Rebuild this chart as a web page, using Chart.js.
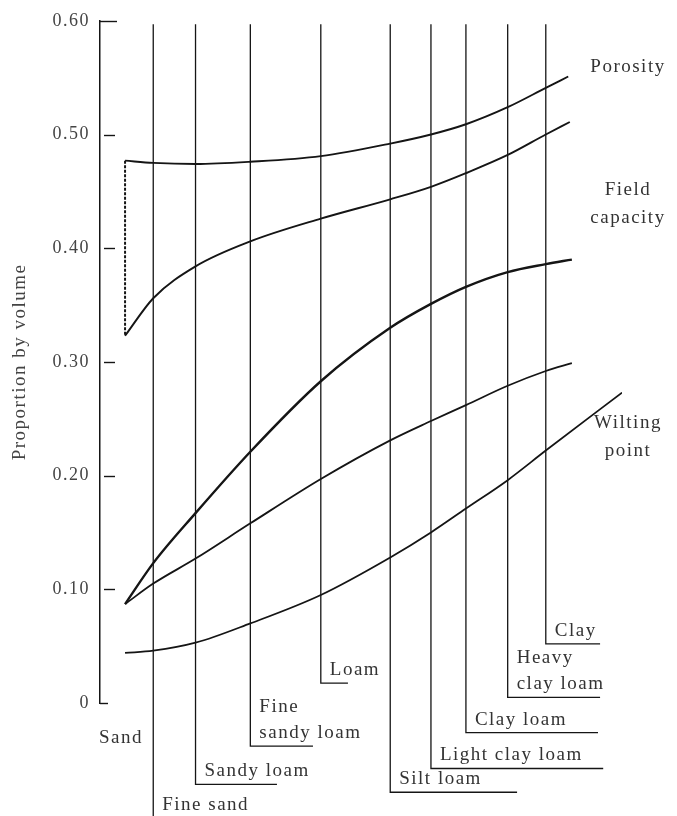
<!DOCTYPE html>
<html>
<head>
<meta charset="utf-8">
<script src="https://cdn.jsdelivr.net/npm/chart.js@4.4.1/dist/chart.umd.min.js"></script>
<style>
  html, body { margin: 0; padding: 0; background: #fff; }
  canvas { display: block; }
</style>
</head>
<body>
<canvas id="chart" width="677" height="816"></canvas>
<script>
// soil texture classes along the x axis (sand -> clay)
const soilClasses = ['Sand', 'Fine sand', 'Sandy loam', 'Fine sandy loam', 'Loam', 'Silt loam',
  'Light clay loam', 'Clay loam', 'Heavy clay loam', 'Clay'];
const classLabels = ['Sand', 'Fine sand', 'Sandy loam', 'Fine\nsandy loam', 'Loam', 'Silt loam',
  'Light clay loam', 'Clay loam', 'Heavy\nclay loam', 'Clay'];
const classPosition = [4.8, 10.2, 18.3, 28.8, 42.3, 55.6, 63.4, 70.1, 78.1, 85.4];

// y axis ticks
const yTicks = [0, 0.1, 0.2, 0.3, 0.4, 0.5, 0.6];

// proportion by volume, read at each class, last value at the curve's end
const porosity     = [0.477, 0.475, 0.474, 0.476, 0.481, 0.492, 0.500, 0.509, 0.524, 0.541, 0.551];
const porosityLow  = [0.323, 0.356, 0.384, 0.406, 0.426, 0.443, 0.454, 0.466, 0.482, 0.500, 0.511];
const fieldCapHigh = [0.087, 0.123, 0.167, 0.221, 0.283, 0.330, 0.351, 0.366, 0.379, 0.386, 0.390];
const fieldCapLow  = [0.087, 0.105, 0.127, 0.158, 0.197, 0.231, 0.248, 0.262, 0.279, 0.292, 0.299];
const wiltingPoint = [0.044, 0.046, 0.053, 0.070, 0.095, 0.128, 0.150, 0.171, 0.196, 0.222, 0.273];
const curveEndX    = [89.7, 90.0, 90.4, 90.4, 100];

// layout of the leader lines under the plot (not data)
const leaderTop = 0.597;
const leaderEnd = [null, -0.101, -0.0715, -0.038, 0.0174, -0.0785, -0.0576, -0.026, 0.005, 0.052];
const footEnd   = [null, 40, 33.9, 40.8, 47.5, 79.9, 96.4, 95.4, 95.8, 95.8];
const curveLabels = [
  { lines: ['Porosity'], y: 0.559 },
  { lines: ['Field', 'capacity'], y: 0.451 },
  { lines: ['Wilting', 'point'], y: 0.246 },
];

const FONT = '"Liberation Serif", "DejaVu Serif", serif';
const INK = '#151515';
const TEXT = '#333';

const toPoints = (values, endX) =>
  values.map((v, i) => ({ x: i < classPosition.length ? classPosition[i] : endX, y: v }));

const curve = (values, endX, width) => ({
  data: toPoints(values, endX),
  borderColor: INK,
  borderWidth: width,
  pointRadius: 0,
  cubicInterpolationMode: 'monotone',
  fill: false,
});

const datasets = [
  curve(porosity, curveEndX[0], 1.9),
  curve(porosityLow, curveEndX[1], 1.9),
  curve(fieldCapHigh, curveEndX[2], 2.4),
  curve(fieldCapLow, curveEndX[3], 1.8),
  curve(wiltingPoint, curveEndX[4], 1.8),
  {
    // range bar at sand
    data: [{ x: classPosition[0], y: porosity[0] }, { x: classPosition[0], y: porosityLow[0] }],
    borderColor: INK,
    borderWidth: 2,
    borderDash: [3, 1.5],
    pointRadius: 0,
  },
];

// leader lines for each class (sand has none)
soilClasses.forEach((name, i) => {
  if (leaderEnd[i] === null) return;
  datasets.push({
    label: name,
    data: [
      { x: classPosition[i], y: leaderTop },
      { x: classPosition[i], y: leaderEnd[i] },
      { x: footEnd[i], y: leaderEnd[i] },
    ],
    borderColor: INK,
    borderWidth: 1.3,
    pointRadius: 0,
    tension: 0,
    clip: false,
  });
});

const textSpacing = {
  id: 'textSpacing',
  beforeDraw(chart) {
    chart.ctx.letterSpacing = '1.5px';
  },
};

const annotations = {
  id: 'annotations',
  afterDraw(chart) {
    const { ctx, chartArea } = chart;
    const x = chart.scales.x;
    const y = chart.scales.y;
    const left = chartArea.left;
    ctx.save();
    ctx.letterSpacing = '1.5px';

    // inner tick dashes on the y axis
    ctx.strokeStyle = INK;
    ctx.lineWidth = 1.4;
    yTicks.forEach(v => {
      const py = Math.round(y.getPixelForValue(v)) + 0.5;
      let a = left + 4, b = left + 15;
      if (v === yTicks[yTicks.length - 1]) { a = left; b = left + 17; }
      if (v === 0) { a = left; b = left + 8; }
      ctx.beginPath();
      ctx.moveTo(a, py);
      ctx.lineTo(b, py);
      ctx.stroke();
    });

    // class names
    ctx.fillStyle = TEXT;
    ctx.font = '19px ' + FONT;
    ctx.textBaseline = 'alphabetic';
    classLabels.forEach((label, i) => {
      const lines = label.split('\n');
      if (leaderEnd[i] === null) {
        ctx.textAlign = 'center';
        ctx.fillText(lines[0], x.getPixelForValue(classPosition[i]) - 4, y.getPixelForValue(-0.0297) + 6);
        return;
      }
      ctx.textAlign = 'left';
      const px = x.getPixelForValue(classPosition[i]) + 9;
      const base = y.getPixelForValue(leaderEnd[i]) - 8;
      lines.forEach((t, k) => {
        ctx.fillText(t, px, base - (lines.length - 1 - k) * 26);
      });
    });

    // curve names at the right
    ctx.textAlign = 'center';
    ctx.textBaseline = 'middle';
    curveLabels.forEach(c => {
      const py = y.getPixelForValue(c.y);
      c.lines.forEach((t, k) => ctx.fillText(t, chartArea.right + 6, py + k * 28));
    });
    ctx.restore();
  },
};

new Chart(document.getElementById('chart'), {
  type: 'line',
  data: { datasets },
  options: {
    responsive: false,
    animation: false,
    layout: { padding: { left: 5, right: 55, top: 15, bottom: 113 } },
    plugins: {
      legend: { display: false },
      tooltip: { enabled: false },
    },
    scales: {
      x: { type: 'linear', min: 0, max: 100, display: false },
      y: {
        type: 'linear',
        min: 0,
        max: 0.6,
        afterBuildTicks: s => { s.ticks = yTicks.map(v => ({ value: v })); },
        afterFit: s => { s.width = 95; },
        grid: { display: false, drawTicks: false },
        border: { display: true, color: INK, width: 1.5 },
        ticks: {
          padding: 10,
          color: '#444',
          font: { family: FONT, size: 18 },
          callback: v => (v === 0 ? '0' : v.toFixed(2)),
        },
        title: {
          display: true,
          text: 'Proportion by volume',
          color: '#444',
          font: { family: FONT, size: 19 },
          padding: { top: 4, bottom: 4 },
        },
      },
    },
  },
  plugins: [textSpacing, annotations],
});
</script>
</body>
</html>
